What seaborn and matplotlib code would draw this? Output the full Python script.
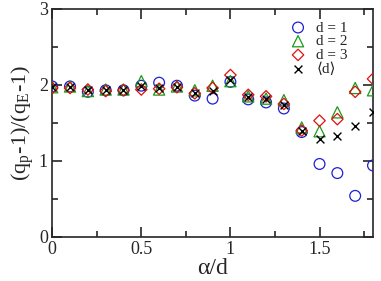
import numpy as np
import pandas as pd
import matplotlib
matplotlib.use("Agg")
import matplotlib.pyplot as plt
import seaborn as sb
from matplotlib.ticker import MultipleLocator

alpha_d = [0.0, 0.1, 0.2, 0.3, 0.4, 0.5, 0.6, 0.7, 0.8, 0.9,
           1.0, 1.1, 1.2, 1.3, 1.4, 1.5, 1.6, 1.7, 1.8]
d1 = [1.98, 1.98, 1.91, 1.93, 1.93, 1.99, 2.03, 1.99, 1.86, 1.82,
      2.04, 1.81, 1.77, 1.69, 1.38, 0.96, 0.84, 0.54, 0.94]
d2 = [1.97, 1.98, 1.92, 1.94, 1.94, 2.05, 1.94, 1.98, 1.93, 1.99,
      2.05, 1.85, 1.82, 1.80, 1.44, 1.39, 1.64, 1.96, 1.93]
d3 = [1.96, 1.96, 1.94, 1.92, 1.93, 1.94, 1.95, 1.97, 1.89, 1.96,
      2.13, 1.87, 1.85, 1.75, 1.40, 1.53, 1.55, 1.91, 2.08]
d_mean = [1.97, 1.97, 1.93, 1.93, 1.93, 1.98, 1.96, 1.97, 1.90, 1.92,
          2.06, 1.84, 1.82, 1.74, 1.40, 1.29, 1.33, 1.46, 1.65]

sb.set_style("ticks")
plt.rcParams["font.family"] = ["Liberation Serif", "DejaVu Serif"]
plt.rcParams["mathtext.fontset"] = "stix"

fig = plt.figure(figsize=(3.81, 2.81), dpi=100)
ax = fig.add_axes([0.137, 0.157, 0.842, 0.811])

df = pd.DataFrame({"x": alpha_d, "d1": d1, "d2": d2, "d3": d3, "dm": d_mean})

sb.scatterplot(data=df, x="x", y="d1", marker="o", s=60, fc="none",
               ec="#1f1fd0", linewidth=0.9, label="d = 1", ax=ax, zorder=3)
sb.scatterplot(data=df, x="x", y="d2", marker="^", s=65, fc="none",
               ec="#1a9a1a", linewidth=0.9, label="d = 2", ax=ax, zorder=3)
sb.scatterplot(data=df, x="x", y="d3", marker="D", s=34, fc="none",
               ec="#e01010", linewidth=0.9, label="d = 3", ax=ax, zorder=3)
sb.scatterplot(data=df, x="x", y="dm", marker="x", s=32, color="black",
               linewidth=1.0, label="\u27e8d\u27e9", ax=ax, zorder=4)

ax.set_xlim(0, 1.8)
ax.set_ylim(0, 3)
ax.xaxis.set_major_locator(MultipleLocator(0.5))
ax.xaxis.set_minor_locator(MultipleLocator(0.25))
ax.yaxis.set_major_locator(MultipleLocator(1))
ax.yaxis.set_minor_locator(MultipleLocator(0.5))
ax.xaxis.set_major_formatter(plt.FuncFormatter(lambda v, p: "%g" % v))
ax.yaxis.set_major_formatter(plt.FuncFormatter(lambda v, p: "%g" % v))
ax.tick_params(which="both", direction="in", top=True, right=True,
               labelsize=13, width=1.2, pad=3)
ax.tick_params(which="major", length=7)
ax.tick_params(which="minor", length=4)
for sp in ax.spines.values():
    sp.set_linewidth(1.2)

ax.set_xlabel("\u03b1/d", fontsize=17, labelpad=0)
ax.set_ylabel("(q$_\\mathregular{p}$-1)/(q$_\\mathregular{E}$-1)", fontsize=16, labelpad=2)

ax.legend(loc="upper right", bbox_to_anchor=(0.955, 0.995), frameon=False,
          fontsize=11, handletextpad=0.6, labelspacing=0.0, borderpad=0.2,
          handlelength=1.2)

fig.savefig("out.png", dpi=100)
